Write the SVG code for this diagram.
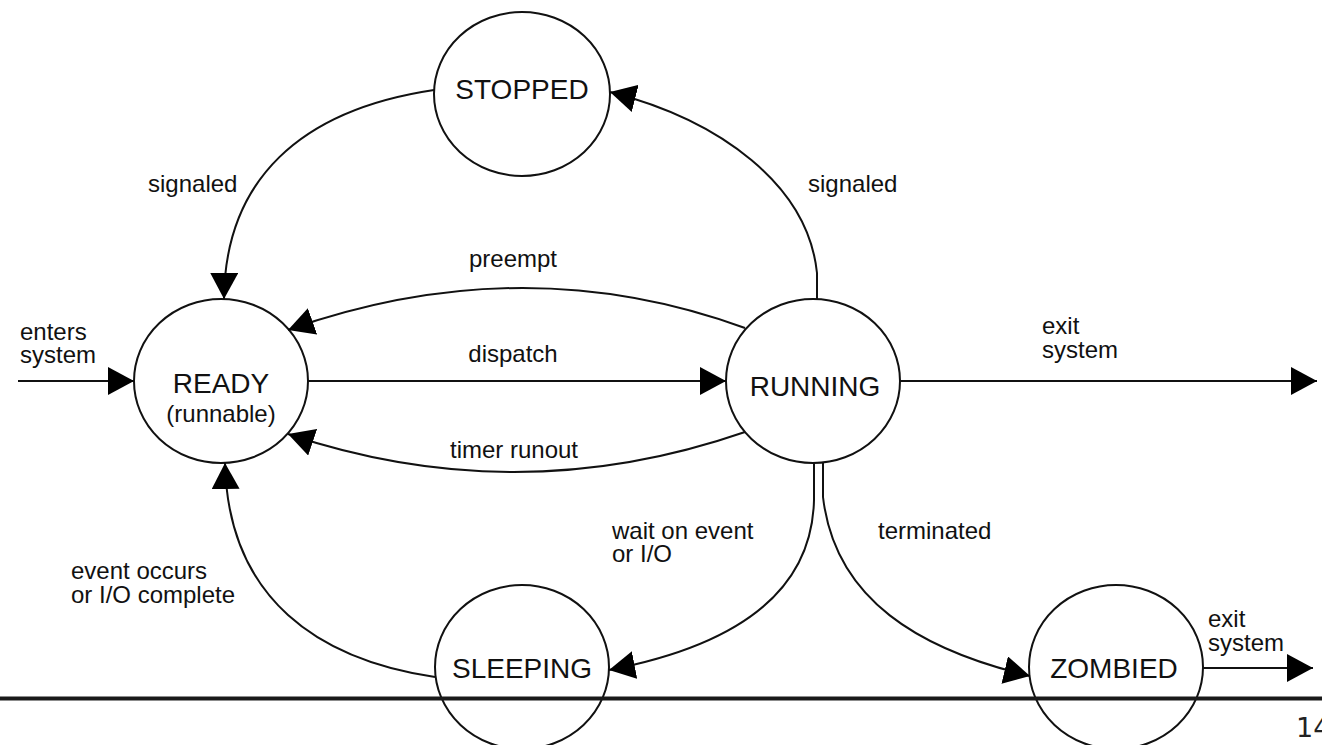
<svg xmlns="http://www.w3.org/2000/svg" width="1322" height="745" viewBox="0 0 1322 745">
<style>
.st{fill:#fff;stroke:#111;stroke-width:2}
.nm{font-family:"Liberation Sans",Arial,sans-serif;font-size:28px;fill:#111;text-anchor:middle}
.lb{font-family:"Liberation Sans",Arial,sans-serif;font-size:24px;fill:#111}
.c{fill:none;stroke:#111;stroke-width:2;marker-end:url(#ah)}
.n{fill:none;stroke:#111;stroke-width:2}
</style>
<defs>
<marker id="ah" markerUnits="userSpaceOnUse" markerWidth="26" markerHeight="28" refX="26" refY="14" orient="auto">
<path d="M0,0 L26,14 L0,28 Z" fill="#000"/>
</marker>
</defs>
<rect width="1322" height="745" fill="#fff"/>
<g id="STOPPED"><ellipse class="st" cx="522" cy="94" rx="88" ry="82"/><text class="nm" x="522" y="99">STOPPED</text></g>
<g id="READY"><ellipse class="st" cx="221" cy="381" rx="87" ry="82"/><text class="nm" x="221" y="393">READY</text><text class="lb" x="221" y="422" text-anchor="middle">(runnable)</text></g>
<g id="RUNNING"><ellipse class="st" cx="813" cy="381" rx="87" ry="82"/><text class="nm" x="815" y="396">RUNNING</text></g>
<g id="SLEEPING"><ellipse class="st" cx="522" cy="667" rx="87" ry="82"/><text class="nm" x="522" y="678">SLEEPING</text></g>
<g id="ZOMBIED"><ellipse class="st" cx="1116" cy="667" rx="87" ry="82"/><text class="nm" x="1114" y="678">ZOMBIED</text></g>
<g id="connectors">
<path class="c" d="M18,381 L134,381"/>
<path class="c" d="M308,381 L726,381"/>
<path class="c" d="M745,328 Q523,247 288,330"/>
<path class="c" d="M745,432 Q517,511 288,434"/>
<path class="c" d="M900,381 L1317,381"/>
<path class="c" d="M434,90 C300,110 225,180 224,299"/>
<path class="c" d="M817,299 L817,273 C808,185 720,120 610,92"/>
<path class="c" d="M435,677 C320,660 228,600 225,463"/>
<path class="c" d="M814,463 L814,500 C812,590 740,645 609,670"/>
<path class="c" d="M823,463 L823,497 C835,600 920,650 1030,676"/>
<path class="c" d="M1203,668 L1313,668"/>
</g>
<g id="labels">
<text class="lb" x="148" y="192">signaled</text>
<text class="lb" x="808" y="192">signaled</text>
<text class="lb" x="513" y="267" text-anchor="middle">preempt</text>
<text class="lb" x="513" y="362" text-anchor="middle">dispatch</text>
<text class="lb" x="514" y="458" text-anchor="middle">timer runout</text>
<text class="lb" x="20" y="340">enters</text>
<text class="lb" x="20" y="363">system</text>
<text class="lb" x="1042" y="334">exit</text>
<text class="lb" x="1042" y="358">system</text>
<text class="lb" x="612" y="539">wait on event</text>
<text class="lb" x="612" y="562">or I/O</text>
<text class="lb" x="878" y="539">terminated</text>
<text class="lb" x="71" y="579">event occurs</text>
<text class="lb" x="71" y="603">or I/O complete</text>
<text class="lb" x="1208" y="627">exit</text>
<text class="lb" x="1208" y="651">system</text>
</g>
<line x1="0" y1="698.5" x2="1322" y2="698.5" stroke="#1a1a1a" stroke-width="4"/>
<text x="1296" y="737" font-family="DejaVu Sans, sans-serif" font-size="27" fill="#222">14</text>
</svg>
